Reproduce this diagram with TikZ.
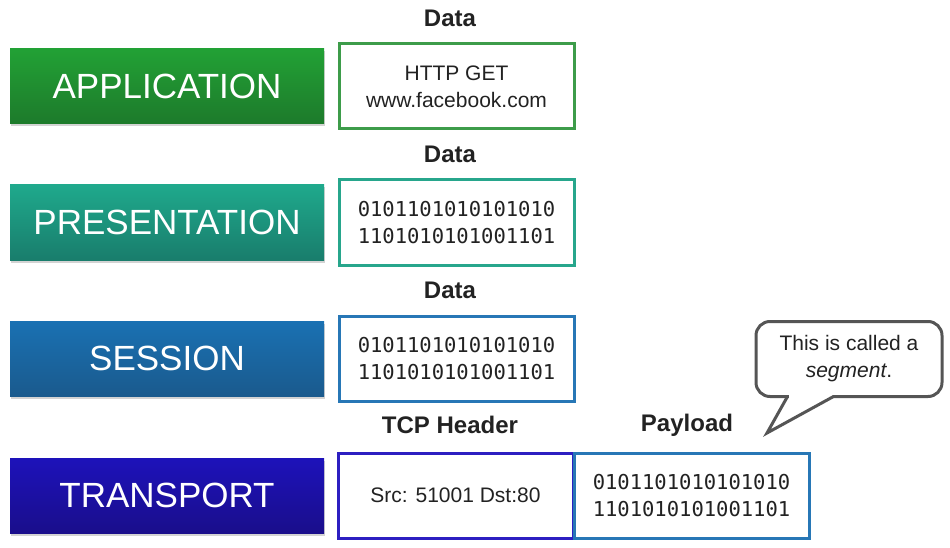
\documentclass[tikz,border=0pt]{standalone}
\usepackage{fontspec}
\setmainfont{Liberation Sans}
\setmonofont{DejaVu Sans Mono}
\usepackage{tikz}
\usetikzlibrary{calc}
\usetikzlibrary{shadows}
\definecolor{appTop}{HTML}{22A135}
\definecolor{appBot}{HTML}{1D7A2B}
\definecolor{appLine}{HTML}{3D9C4A}
\definecolor{preTop}{HTML}{1FA98C}
\definecolor{preBot}{HTML}{197D6C}
\definecolor{preLine}{HTML}{27A68C}
\definecolor{sesTop}{HTML}{1A71B3}
\definecolor{sesBot}{HTML}{1A5A8D}
\definecolor{sesLine}{HTML}{2777B6}
\definecolor{traTop}{HTML}{1D12BA}
\definecolor{traBot}{HTML}{1A0E8B}
\definecolor{traLine}{HTML}{2D1FC1}
\definecolor{ink}{HTML}{222222}
\definecolor{bubble}{HTML}{555555}
\begin{document}
\begin{tikzpicture}[x=1pt,y=-1pt,
    layer/.style={minimum width=314pt, minimum height=75pt, inner sep=0pt, text=white,
        font=\fontsize{35}{40}\selectfont,
        drop shadow={opacity=0.35, shadow xshift=1pt, shadow yshift=-2.5pt}},
    pdu/.style={draw, line width=3pt, fill=white, minimum width=235pt, minimum height=85pt,
        inner sep=0pt, align=center, text=ink, font=\fontsize{21}{27}\selectfont},
    bits/.style={pdu, font=\ttfamily\fontsize{20.5}{27}\selectfont},
    hdr/.style={font=\bfseries\fontsize{24}{28}\selectfont, text=ink}]
\useasboundingbox (0,0) rectangle (950,548);

% layers
\node[layer, top color=appTop, bottom color=appBot] (app) at (167,86.5) {APPLICATION};
\node[layer, top color=preTop, bottom color=preBot] (pre) at (167,222.5) {PRESENTATION};
\node[layer, top color=sesTop, bottom color=sesBot] (ses) at (167,358.5) {SESSION};
\node[layer, top color=traTop, bottom color=traBot] (tra) at (167,495.5) {TRANSPORT};

% data units
\node[pdu, draw=appLine] (appData) at (456.5,86.5) {HTTP GET\\www.facebook.com};
\node[bits, draw=preLine] (preData) at (456.5,222.5) {0101101010101010\\1101010101001101};
\node[bits, draw=sesLine] (sesData) at (456.5,358.5) {0101101010101010\\1101010101001101};
\node[pdu, draw=traLine] (tcpHdr) at (455.5,495.5) {Src: 51001 Dst:80};
\node[bits, draw=sesLine] (tcpLoad) at (691.5,495.5) {0101101010101010\\1101010101001101};

\node[hdr] (appLbl) at (450,18) {Data};
\node[hdr] (preLbl) at (450,154) {Data};
\node[hdr] (sesLbl) at (450,290) {Data};
\node[hdr] (hdrLbl) at (450,425) {TCP Header};
\node[hdr] (loadLbl) at (687,425) {Payload};

% callout
\node[draw=bubble, line width=3pt, rounded corners=14pt, fill=white, minimum width=186pt,
    minimum height=75pt, align=center, text=ink, font=\fontsize{21}{27}\selectfont]
    (seg) at (849,359) {This is called a\\\textit{segment}.};
\coordinate (segTip) at (767,433);
\fill[white] ($(seg.south west)+(34,-3)$) rectangle ($(seg.south west)+(78,3)$);
\draw[bubble, line width=3pt, line join=miter]
    ($(seg.south west)+(33,-1.5)$) -- (segTip) -- ($(seg.south west)+(79,-1.5)$);
\end{tikzpicture}
\end{document}
